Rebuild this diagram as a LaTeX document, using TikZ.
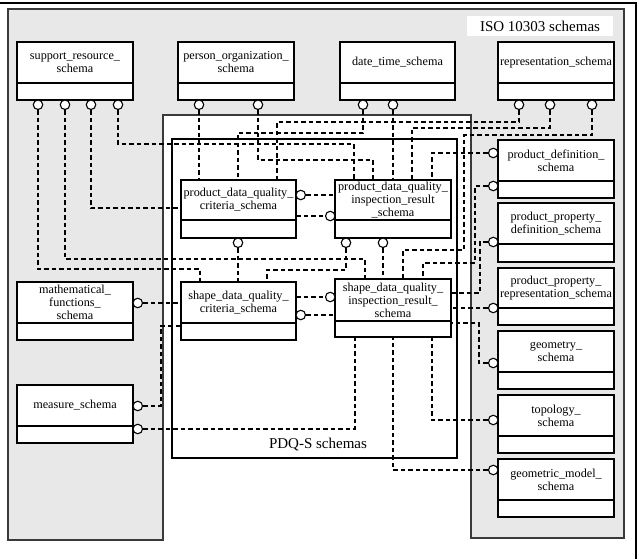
\documentclass[tikz,border=0pt]{standalone}
\usepackage{fontspec}
\setmainfont{Liberation Serif}
\usetikzlibrary{calc}
\definecolor{regiongrey}{HTML}{E8E8E8}
\definecolor{regionline}{HTML}{3A3A3A}
\newcommand\schbox[7]{%
  \node[boxframe, minimum width=#4-#2, minimum height=#5-#3] (#1) at ({(#2+#4)/2},{(#3+#5)/2}) {};
  \draw[dividerline] (#2,#6) -- (#4,#6);
  \node[boxtext] (#1-t) at ({(#2+#4)/2},{(#3+#6)/2}) {#7};
}
\begin{document}
\begin{tikzpicture}[x=1pt,y=-1pt,
  conn/.style={line width=1.6pt, dash pattern=on 4.5pt off 3pt},
  boxframe/.style={draw, line width=1.5pt, fill=white, inner sep=0pt, outer sep=0pt},
  dividerline/.style={line width=1.2pt},
  lolli/.style={circle, draw, line width=1.1pt, fill=white, minimum size=9.5pt, inner sep=0pt},
  boxtext/.style={align=center, font=\fontsize{12.2}{13}\selectfont, inner sep=0pt},
  biglabel/.style={font=\fontsize{15}{17}\selectfont, inner sep=0pt}]
\useasboundingbox (0,0) rectangle (639,559);
% grey ISO region
\filldraw[fill=regiongrey, draw=regionline, line width=1.1pt]
  (8,9) -- (624,9) -- (624,538) -- (471,538) -- (471,115) -- (163,115) -- (163,540) -- (8,540) -- cycle;
% outer frame
\draw[line width=1.8pt] (0,3) -- (636,3) -- (636,559);
% ISO label
\node[fill=white, minimum width=146pt, minimum height=20pt, inner sep=0pt] (isobg) at (540,26) {};
\node[biglabel] (isolabel) at (540,26) {ISO 10303 schemas};
% PDQ-S frame
\node[boxframe, minimum width=285pt, minimum height=319pt] (pdqs) at (314.5,298.5) {};
\node[biglabel] (pdqslabel) at (318,445) {PDQ-S schemas};
% schema boxes
\schbox{sr}{17}{42}{133}{100}{83}{support\_resource\_\\schema}
\schbox{po}{178}{42}{294}{100}{83}{person\_organization\_\\schema}
\schbox{dt}{340}{42}{455}{100}{83}{date\_time\_schema}
\schbox{rep}{498}{42}{614}{100}{83}{representation\_schema}
\schbox{pd}{498}{140}{614}{198}{181}{product\_definition\_\\schema}
\schbox{ppd}{498}{203}{614}{262}{244}{product\_property\_\\definition\_schema}
\schbox{ppr}{498}{268}{614}{325}{308}{product\_property\_\\representation\_schema}
\schbox{geo}{498}{331}{614}{389}{372}{geometry\_\\schema}
\schbox{topo}{498}{395}{614}{453}{436}{topology\_\\schema}
\schbox{gm}{498}{459}{614}{517}{500}{geometric\_model\_\\schema}
\schbox{mf}{17}{282}{133}{340}{323}{mathematical\_\\functions\_\\schema}
\schbox{ms}{17}{385}{133}{443}{426}{measure\_schema}
\schbox{pdqc}{181}{180}{296}{238}{220}{product\_data\_quality\_\\criteria\_schema}
\schbox{pdqi}{335}{180}{451}{238}{220}{product\_data\_quality\_\\inspection\_result\\\_schema}
\schbox{sdqc}{181}{282}{296}{340}{323}{shape\_data\_quality\_\\criteria\_schema}
\schbox{sdqi}{335}{279}{451}{337}{321}{shape\_data\_quality\_\\inspection\_result\_\\schema}
% lollipops
\node[lolli] (sr1) at (38,104.75) {};
\node[lolli] (sr2) at (65,104.75) {};
\node[lolli] (sr3) at (91,104.75) {};
\node[lolli] (sr4) at (118,104.75) {};
\node[lolli] (po1) at (199,104.75) {};
\node[lolli] (po2) at (258,104.75) {};
\node[lolli] (dt1) at (363,104.75) {};
\node[lolli] (dt2) at (393,104.75) {};
\node[lolli] (rep1) at (519,104.75) {};
\node[lolli] (rep2) at (550,104.75) {};
\node[lolli] (rep3) at (592,104.75) {};
\node[lolli] (pd1) at (493.25,153) {};
\node[lolli] (pd2) at (493.25,186) {};
\node[lolli] (ppd1) at (493.25,242) {};
\node[lolli] (ppr1) at (493.25,308) {};
\node[lolli] (geo1) at (493.25,363) {};
\node[lolli] (topo1) at (493.25,420) {};
\node[lolli] (gm1) at (493.25,470) {};
\node[lolli] (mf1) at (137.75,303) {};
\node[lolli] (ms1) at (137.75,406) {};
\node[lolli] (ms2) at (137.75,429) {};
\node[lolli] (pdqc1) at (300.75,195) {};
\node[lolli] (pdqc2) at (238,242.75) {};
\node[lolli] (pdqi1) at (330.25,216) {};
\node[lolli] (pdqi2) at (346,242.75) {};
\node[lolli] (pdqi3) at (383,242.75) {};
\node[lolli] (sdqc1) at (300.75,315) {};
\node[lolli] (sdqi1) at (330.25,297) {};
% connectors
\draw[conn] (sr1) |- (200,269) -- (sdqc.north -| 200,0);
\draw[conn] (sr2) |- (365,259) -- (sdqi.north -| 365,0);
\draw[conn] (sr3) |- (pdqc.west |- 0,208);
\draw[conn] (sr4) |- (354,144) -- (pdqi.north -| 354,0);
\draw[conn] (po1) -- (pdqc.north -| po1);
\draw[conn] (po2) |- (373,160) -- (pdqi.north -| 373,0);
\draw[conn] (dt1) |- (238,133) -- (pdqc.north -| 238,0);
\draw[conn] (dt2) -- (pdqi.north -| dt2);
\draw[conn] (rep1) |- (277,122) -- (pdqc.north -| 277,0);
\draw[conn] (rep2) |- (412,128) -- (pdqi.north -| 412,0);
\draw[conn] (rep3) |- (464,135) -- (464,250) -| (sdqi.north -| 403,0);
\draw[conn] (pd1) -| (pdqi.north -| 432,0);
\draw[conn] (pd2) -| (475,263) -| (sdqi.north -| 423,0);
\draw[conn] (ppd1) -| (480,293) -- (sdqi.east |- 0,293);
\draw[conn] (ppr1) -- (sdqi.east |- ppr1);
\draw[conn] (geo1) -| (479,323) -- (sdqi.east |- 0,323);
\draw[conn] (topo1) -| (sdqi.south -| 432,0);
\draw[conn] (gm1) -| (sdqi.south -| 393,0);
\draw[conn] (ms2) -| (sdqi.south -| 355,0);
\draw[conn] (ms1) -| (161,326) -- (sdqc.west |- 0,326);
\draw[conn] (mf1) -- (sdqc.west |- mf1);
\draw[conn] (pdqc1) -- (pdqi.west |- pdqc1);
\draw[conn] (pdqc.east |- 0,216) -- (pdqi1);
\draw[conn] (pdqc2) -- (sdqc.north -| pdqc2);
\draw[conn] (pdqi2) |- (267,270) -- (sdqc.north -| 267,0);
\draw[conn] (pdqi3) -- (sdqi.north -| pdqi3);
\draw[conn] (sdqc1) -- (sdqi.west |- sdqc1);
\draw[conn] (sdqc.east |- 0,297) -- (sdqi1);
\end{tikzpicture}
\end{document}
